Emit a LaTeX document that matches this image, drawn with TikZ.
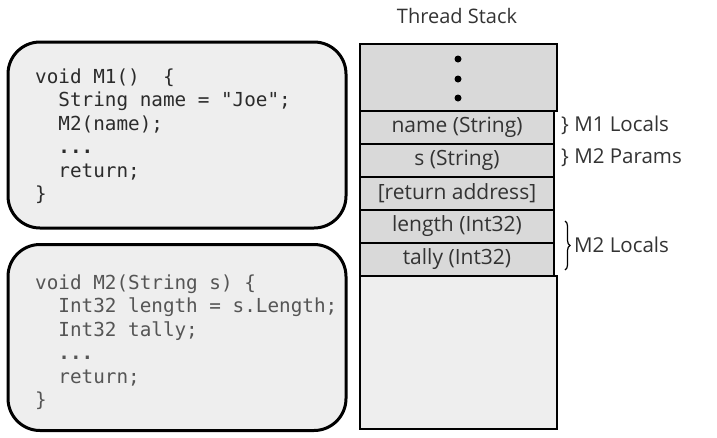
\documentclass[tikz,border=0pt]{standalone}
\usepackage{fontspec}
\setmainfont{Open Sans}
\setmonofont{DejaVu Sans Mono}
\usetikzlibrary{decorations.pathreplacing}
\definecolor{boxfill}{HTML}{EEEEEE}
\definecolor{cellfill}{HTML}{D9D9D9}
\definecolor{codeA}{HTML}{2B2B2B}
\definecolor{codeB}{HTML}{555555}
\definecolor{txt}{HTML}{333333}
\newcommand\codeind{\phantom{xx}}
\newcommand\codedots{{\bfseries ...}}
\begin{document}
\begin{tikzpicture}[x=1pt,y=-1pt,
  codebox/.style={draw=black,line width=3pt,fill=boxfill,rounded corners=32pt,minimum width=338pt,minimum height=186pt,inner sep=0pt},
  code/.style={align=left,inner sep=0pt,anchor=north west,font=\ttfamily\fontsize{19.3}{23.5}\selectfont},
  region/.style={draw=black,line width=2.6pt,inner sep=0pt,minimum width=197pt},
  cell/.style={draw=black,line width=2.6pt,fill=cellfill,inner sep=0pt,minimum width=194pt,minimum height=33pt,text=txt,font=\fontsize{21}{24}\selectfont},
  lbl/.style={anchor=west,inner sep=0pt,text=txt,font=\fontsize{20.5}{24}\selectfont},
  dot/.style={circle,fill=black,inner sep=0pt,minimum size=7pt}
]
\useasboundingbox[fill=white] (0,0) rectangle (717,437);
% code boxes
\node[codebox] (m1box) at (177,135) {};
\node[codebox] (m2box) at (177,337.5) {};
\node[code,text=codeA] (m1code) at (35,68.5) {void M1()\ \ \{\\
\codeind String name = "Joe";\\
\codeind M2(name);\\
\codeind \codedots\\
\codeind return;\\
\}};
\node[code,text=codeB] (m2code) at (35,274.5) {void M2(String s) \{\\
\codeind Int32 length = s.Length;\\
\codeind Int32 tally;\\
\codeind \codedots\\
\codeind return;\\
\}};
% thread stack
\node[text=txt,font=\fontsize{20}{24}\selectfont] (title) at (457,16) {Thread Stack};
\node[region,fill=cellfill,minimum height=67pt] (top) at (458.5,77.5) {};
\node[dot] (d1) at (458,59) {};
\node[dot] (d2) at (458,79) {};
\node[dot] (d3) at (458,98) {};
\node[cell] (name) at (457,127.5) {name (String)};
\node[cell] (s) at (457,160.5) {s (String)};
\node[cell] (ret) at (457,193.5) {[return address]};
\node[cell] (length) at (457,226.5) {length (Int32)};
\node[cell] (tally) at (457,259.5) {tally (Int32)};
\node[region,fill=boxfill,minimum height=153pt] (bottom) at (458.5,352.5) {};
% labels
\node[lbl] (l1) at (561,125) {\} M1 Locals};
\node[lbl] (l2) at (561,158) {\} M2 Params};
\coordinate (b1) at (565,221);
\coordinate (b2) at (565,270);
\draw[decorate,decoration={brace,amplitude=5pt},line width=1.2pt] (b1) -- (b2);
\node[lbl] (l3) at (574,245) {M2 Locals};
\end{tikzpicture}
\end{document}
